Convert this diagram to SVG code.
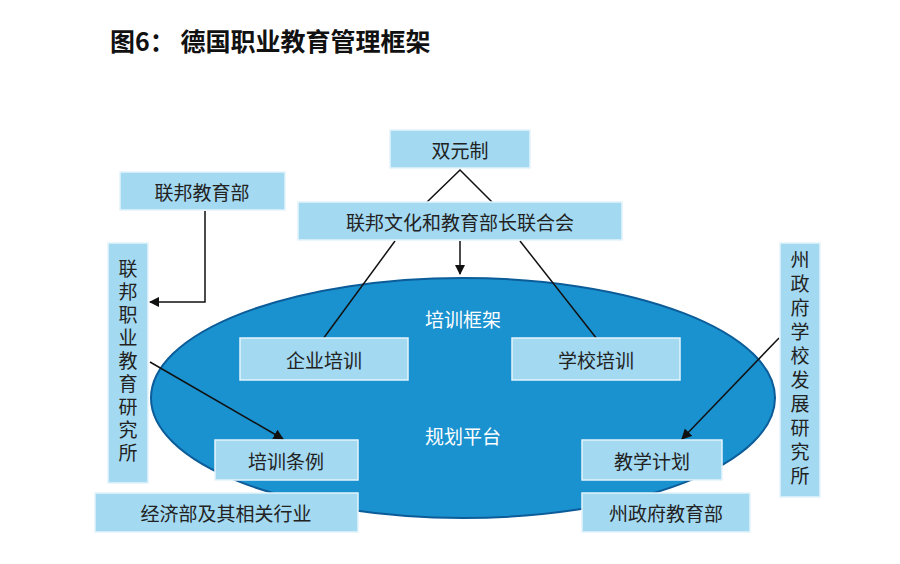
<svg xmlns="http://www.w3.org/2000/svg" width="900" height="564" viewBox="0 0 900 564">
<style>
.b{fill:#a3d9f1;stroke:#e3f3fb;stroke-width:1.5}
.t{font-family:"Noto Sans CJK SC","Noto Sans",sans-serif;font-size:19px;fill:#222;text-anchor:middle;dominant-baseline:central}
.w{fill:#fff}
.l{stroke:#111;stroke-width:1.5;fill:none}
</style>
<defs><marker id="a" viewBox="0 0 10 10" refX="9" refY="5" markerWidth="7" markerHeight="7" orient="auto"><path d="M0,0L10,5L0,10z" fill="#111"/></marker></defs>
<rect width="900" height="564" fill="#fff"/>
<text x="110" y="40" font-family="Noto Sans CJK SC,sans-serif" font-size="25" font-weight="bold" fill="#111" dominant-baseline="central">图6：  德国职业教育管理框架</text>
<ellipse cx="463" cy="398" rx="312" ry="120" fill="#1a92cf" stroke="#0b5c98" stroke-width="2"/>
<text class="t w" x="463" y="318">培训框架</text>
<text class="t w" x="463" y="435">规划平台</text>
<g id="connectors">
<path class="l" d="M427,202L460,170L492,202"/>
<path class="l" d="M460,241V274" stroke-width="2" marker-end="url(#a)"/>
<path class="l" d="M395,241L323,339"/>
<path class="l" d="M520,241L597,339"/>
<path class="l" d="M205,211V302H150" marker-end="url(#a)"/>
<path class="l" d="M150,362L283,439" marker-end="url(#a)"/>
<path class="l" d="M779,338L682,439" marker-end="url(#a)"/>
</g>
<g id="n1"><rect class="b" x="390" y="130" width="140" height="38"/><text class="t" x="460" y="149">双元制</text></g>
<g id="n2"><rect class="b" x="120" y="172" width="165" height="38"/><text class="t" x="202" y="191">联邦教育部</text></g>
<g id="n3"><rect class="b" x="298" y="202" width="324" height="38"/><text class="t" x="460" y="221">联邦文化和教育部长联合会</text></g>
<g id="n4"><rect class="b" x="108" y="243" width="40" height="240"/><text class="t" x="128" y="363" style="writing-mode:vertical-rl;glyph-orientation-vertical:0" letter-spacing="4">联邦职业教育研究所</text></g>
<g id="n5"><rect class="b" x="780" y="243" width="40" height="254"/><text class="t" x="800" y="370" style="writing-mode:vertical-rl" letter-spacing="5">州政府学校发展研究所</text></g>
<g id="n6"><rect class="b" x="240" y="338" width="168" height="42"/><text class="t" x="324" y="359">企业培训</text></g>
<g id="n7"><rect class="b" x="512" y="338" width="168" height="42"/><text class="t" x="596" y="359">学校培训</text></g>
<g id="n8"><rect class="b" x="215" y="440" width="143" height="40"/><text class="t" x="286" y="460">培训条例</text></g>
<g id="n9"><rect class="b" x="582" y="440" width="140" height="40"/><text class="t" x="652" y="460">教学计划</text></g>
<g id="n10"><rect class="b" x="95" y="493" width="263" height="39"/><text class="t" x="226" y="512">经济部及其相关行业</text></g>
<g id="n11"><rect class="b" x="582" y="493" width="168" height="39"/><text class="t" x="666" y="512">州政府教育部</text></g>
</svg>
